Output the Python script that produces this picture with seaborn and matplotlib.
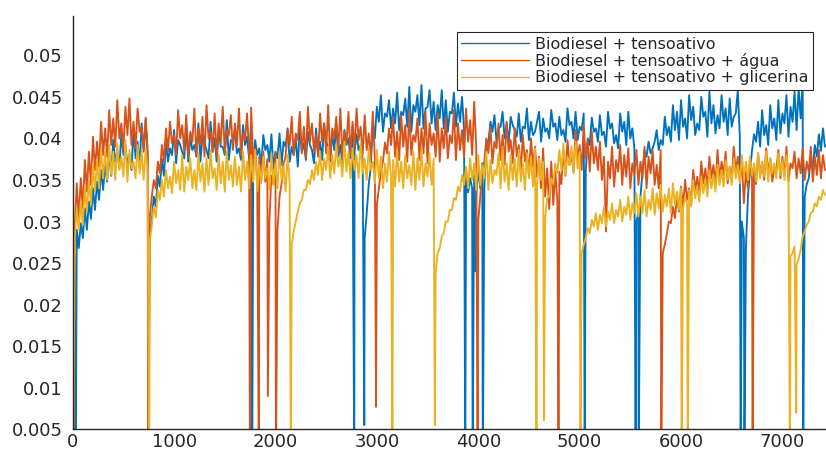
import numpy as np
import matplotlib
matplotlib.use("Agg")
import matplotlib.pyplot as plt
import seaborn as sns
from matplotlib.ticker import FuncFormatter, MultipleLocator

# values in units of 1e-4
# *_hi: spike tops at t = 0, 40, 80, ...   *_lo: spike bottoms at t = 20, 60, 100, ...
STEP = 40

blue_hi = [
    272, 290, 298, 316, 324, 340, 348, 362, 368, 384,
    398, 385, 406, 392, 380, 410, 396, 418, 423, 285,
    330, 355, 375, 396, 388, 410, 398, 384, 414, 402,
    392, 418, 404, 386, 420, 400, 412, 390, 422, 398,
    410, 388, 416, 402, 420, 398, 388, 404, 392, 405,
    384, 406, 396, 412, 390, 400, 414, 394, 408, 386,
    412, 396, 418, 390, 406, 416, 392, 410, 400, 414,
    405, 392, 280, 345, 420, 438, 452, 430, 446, 436,
    455, 432, 448, 462, 440, 452, 464, 436, 458, 444,
    440, 458, 446, 432, 455, 442, 450, 360, 352, 356,
    362, 370, 398, 420, 428, 412, 432, 418, 426, 410,
    430, 414, 436, 420, 408, 432, 424, 412, 434, 418,
    426, 410, 436, 420, 432, 414, 430, 400, 425, 412,
    428, 408, 432, 418, 404, 430, 420, 432, 412, 300,
    330, 385, 396, 388, 410, 398, 426, 414, 440, 432,
    446, 424, 452, 438, 418, 450, 432, 456, 440, 428,
    452, 436, 448, 426, 458, 300, 268, 360, 405, 420,
    434, 416, 440, 424, 446, 430, 452, 438, 456, 460,
    470, 345, 375, 392, 405, 412,
]
blue_lo = [
    256, 268, 280, 290, 303, 314, 326, 338, 348, 355,
    372, 364, 380, 368, 362, 376, 366, 384, 375, 300,
    318, 342, 355, 372, 380, 370, 392, 376, 372, 386,
    378, 372, 394, 376, 384, 372, 390, 380, 374, 396,
    382, 374, 392, 376, 368, 380, 366, 386, 372, 364,
    376, 368, 390, 372, 380, 366, 384, 374, 392, 370,
    382, 374, 396, 372, 386, 378, 370, 392, 376, 384,
    386, 374, 310, 365, 400, 420, 408, 426, 412, 418,
    410, 428, 414, 408, 432, 416, 412, 438, 418, 410,
    424, 412, 408, 430, 414, 420, 412, 335, 340, 332,
    340, 340, 395, 408, 396, 414, 400, 394, 416, 402,
    396, 412, 398, 404, 420, 396, 408, 400, 414, 398,
    404, 396, 416, 400, 398, 410, 360, 392, 408, 396,
    404, 390, 412, 394, 388, 408, 392, 400, 388, 310,
    360, 378, 382, 396, 386, 392, 404, 396, 410, 398,
    414, 400, 422, 404, 410, 426, 402, 418, 406, 412,
    420, 404, 414, 430, 402, 280, 330, 385, 396, 390,
    404, 392, 412, 398, 406, 418, 402, 420, 410, 424,
    330, 352, 365, 378, 385, 390,
]
blue_drop_t = [30, 748, 1771, 2777, 2876, 3872, 3945, 3975, 4045, 5050, 5552, 5582, 6588, 6625, 7205]
blue_drop_v = [0, 0, 0, 0, 55, 0, 0, 240, 0, 0, 0, 0, 0, 0, 0]

orange_hi = [
    330, 346, 352, 374, 384, 402, 396, 420, 412, 434,
    424, 446, 418, 438, 448, 420, 436, 414, 425, 305,
    350, 372, 392, 412, 420, 404, 434, 416, 428, 408,
    436, 412, 426, 440, 408, 430, 418, 438, 410, 428,
    418, 436, 406, 430, 437, 388, 378, 384, 375, 355,
    382, 330, 370, 410, 426, 406, 432, 414, 438, 418,
    404, 430, 418, 440, 412, 426, 436, 408, 432, 420,
    436, 414, 428, 406, 432, 320, 360, 395, 412, 426,
    408, 428, 416, 434, 404, 424, 412, 432, 418, 406,
    430, 412, 426, 404, 434, 418, 410, 436, 422, 444,
    300, 365, 400, 414, 396, 418, 404, 420, 398, 412,
    392, 404, 386, 400, 390, 378, 388, 364, 372, 360,
    360, 386, 398, 380, 410, 392, 416, 398, 408, 390,
    396, 378, 372, 390, 374, 392, 380, 388, 370, 386,
    372, 390, 378, 386, 368, 386, 272, 300, 318, 330,
    342, 350, 340, 362, 354, 372, 364, 378, 368, 386,
    372, 384, 366, 390, 378, 372, 360, 376, 368, 382,
    372, 388, 376, 364, 386, 378, 390, 370, 384, 376,
    388, 372, 390, 378, 386, 380,
]
orange_lo = [
    292, 304, 316, 336, 344, 362, 366, 380, 378, 392,
    390, 400, 386, 404, 392, 388, 408, 386, 384, 330,
    340, 358, 372, 384, 394, 380, 400, 384, 378, 396,
    380, 392, 378, 400, 384, 378, 394, 382, 404, 386,
    392, 380, 398, 382, 372, 352, 350, 348, 300, 345,
    290, 345, 378, 392, 380, 398, 382, 376, 396, 384,
    378, 396, 382, 376, 400, 384, 378, 394, 380, 388,
    398, 380, 386, 376, 376, 340, 372, 382, 392, 378,
    374, 390, 372, 380, 396, 374, 382, 370, 392, 378,
    372, 388, 376, 394, 374, 386, 378, 396, 380, 392,
    330, 372, 382, 370, 388, 374, 368, 384, 370, 378,
    360, 372, 356, 366, 354, 340, 330, 315, 320, 325,
    345, 355, 368, 360, 374, 362, 376, 360, 370, 362,
    350, 288, 352, 342, 360, 344, 354, 340, 356, 344,
    352, 340, 358, 344, 340, 262, 285, 298, 304, 312,
    316, 326, 322, 338, 334, 346, 340, 352, 344, 350,
    356, 346, 352, 360, 348, 322, 340, 352, 345, 356,
    350, 358, 348, 362, 352, 356, 348, 364, 352, 358,
    350, 360, 348, 356, 352, 362,
]
orange_drop_t = [10, 744, 1748, 1836, 1925, 2005, 2992, 3994, 4792, 5805, 6706]
orange_drop_v = [0, 0, 0, 0, 90, 0, 77, 0, 0, 0, 0]

yellow_hi = [
    305, 314, 324, 340, 350, 370, 374, 388, 384, 392,
    384, 394, 378, 398, 386, 372, 392, 384, 388, 275,
    318, 338, 350, 362, 354, 372, 362, 380, 366, 376,
    362, 382, 370, 376, 386, 364, 380, 372, 384, 368,
    378, 366, 384, 372, 380, 386, 368, 378, 364, 382,
    370, 384, 366, 380, 272, 300, 322, 338, 350, 362,
    372, 384, 376, 390, 380, 392, 378, 396, 384, 388,
    380, 394, 376, 388, 372, 386, 378, 370, 384, 374,
    386, 372, 380, 368, 384, 376, 388, 370, 382, 376,
    262, 282, 300, 314, 328, 342, 356, 366, 376, 370,
    380, 368, 384, 374, 362, 382, 390, 370, 380, 376,
    386, 370, 382, 378, 388, 376, 372, 328, 352, 370,
    386, 394, 378, 390, 396, 384, 272, 292, 302, 310,
    308, 318, 312, 322, 314, 326, 318, 330, 322, 334,
    330, 338, 326, 340, 334, 344, 332, 340, 346, 336,
    340, 330, 338, 350, 342, 354, 350, 362, 356, 368,
    362, 374, 366, 376, 368, 380, 372, 378, 370, 382,
    372, 384, 376, 370, 382, 374, 380, 258, 270, 255,
    282, 296, 310, 322, 330, 338,
]
yellow_lo = [
    280, 290, 296, 312, 320, 336, 340, 352, 350, 356,
    350, 362, 354, 348, 364, 352, 358, 350, 360, 295,
    305, 326, 330, 340, 334, 346, 338, 336, 350, 340,
    338, 348, 336, 344, 352, 338, 346, 336, 350, 342,
    344, 336, 350, 340, 348, 336, 346, 352, 338, 344,
    340, 350, 336, 346, 288, 312, 326, 338, 345, 350,
    356, 350, 362, 352, 358, 366, 354, 360, 352, 362,
    352, 358, 350, 362, 346, 352, 340, 348, 354, 342,
    348, 340, 352, 344, 338, 350, 342, 354, 344, 240,
    268, 286, 300, 314, 326, 336, 344, 340, 350, 338,
    344, 352, 338, 346, 356, 340, 348, 338, 350, 342,
    348, 338, 352, 342, 344, 350, 305, 330, 345, 358,
    362, 356, 368, 358, 364, 262, 280, 286, 294, 290,
    298, 294, 302, 298, 306, 300, 308, 302, 310, 306,
    310, 306, 314, 308, 316, 312, 318, 310, 320, 314,
    316, 322, 318, 328, 324, 334, 330, 340, 336, 344,
    342, 350, 344, 352, 346, 354, 350, 356, 348, 352,
    354, 348, 358, 352, 356, 350, 358, 262, 248, 266,
    288, 300, 312, 318, 326, 332,
]
yellow_drop_t = [4, 754, 2152, 3154, 3572, 4575, 4648, 5008, 6006, 6066, 7074, 7136]
yellow_drop_v = [0, 0, 0, 0, 55, 0, 61, 0, 0, 0, 0, 70]

labels = [
    "Biodiesel + tensoativo",
    "Biodiesel + tensoativo + água",
    "Biodiesel + tensoativo + glicerina",
]
colors = ["#0072BD", "#D95319", "#EDB120"]

y_ticks = [0.005, 0.01, 0.015, 0.02, 0.025, 0.03, 0.035, 0.04, 0.045, 0.05]


def build_series(hi, lo, drop_t, drop_v):
    t_hi = np.arange(len(hi)) * STEP
    t_lo = np.arange(len(lo)) * STEP + STEP // 2
    t = np.concatenate([t_hi, t_lo, drop_t])
    v = np.concatenate([hi, lo, drop_v]) / 1e4
    order = np.argsort(t, kind="stable")
    return t[order], v[order]


sns.set_style("white")
plt.rcParams["font.family"] = ["DejaVu Sans"]

fig = plt.figure(figsize=(8.26, 4.5), dpi=100)
ax = fig.add_axes([0.088, 0.046, 0.912, 0.918])

series = [
    (blue_hi, blue_lo, blue_drop_t, blue_drop_v),
    (orange_hi, orange_lo, orange_drop_t, orange_drop_v),
    (yellow_hi, yellow_lo, yellow_drop_t, yellow_drop_v),
]
for (hi, lo, dt, dv), lab, col in zip(series, labels, colors):
    t, v = build_series(hi, lo, dt, dv)
    sns.lineplot(x=t, y=v, ax=ax, color=col, linewidth=1.35,
                 estimator=None, sort=False, label=lab)

ax.set_xlim(0, 7430)
ax.set_ylim(0.005, 0.0547)
ax.set_yticks(y_ticks)
ax.yaxis.set_major_formatter(FuncFormatter(lambda v, p: f"{v:g}"))
ax.xaxis.set_major_locator(MultipleLocator(1000))

for side in ["top", "right"]:
    ax.spines[side].set_visible(False)
for side in ["left", "bottom"]:
    ax.spines[side].set_color("#262626")
    ax.spines[side].set_linewidth(1.0)

ax.tick_params(axis="both", direction="in", length=5, width=0.8,
               colors="#262626", labelsize=13)
ax.tick_params(axis="y", pad=7)
ax.tick_params(axis="x", pad=3)

leg = ax.legend(loc="upper right", bbox_to_anchor=(0.983, 0.962),
                borderaxespad=0, fancybox=False, framealpha=1,
                edgecolor="#262626", fontsize=11.5, handlelength=4.2,
                handletextpad=0.4, labelspacing=0.08, borderpad=0.3)
leg.get_frame().set_linewidth(0.8)
for line in leg.get_lines():
    line.set_linewidth(1.0)

fig.savefig("out.png", dpi=100)
